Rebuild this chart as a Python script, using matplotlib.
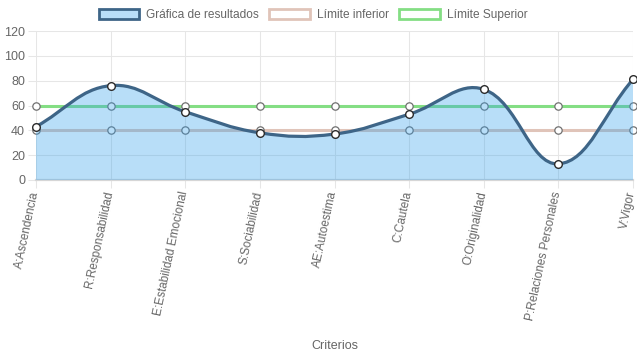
import matplotlib
matplotlib.use('Agg')
import matplotlib.pyplot as plt
from matplotlib.path import Path
from matplotlib.patches import PathPatch, Patch
from matplotlib.transforms import ScaledTranslation
import numpy as np

categories = ["A:Ascendencia", "R:Responsabilidad", "E:Estabilidad Emocional",
              "S:Sociabilidad", "AE:Autoestima", "C:Cautela", "O:Originalidad",
              "P:Relaciones Personales", "V:Vigor"]
resultados = [43, 76, 55, 38, 37, 53, 73, 13, 81]
limite_inferior = [40, 40, 40, 40, 40, 40, 40, 40, 40]
limite_superior = [60, 60, 60, 60, 60, 60, 60, 60, 60]
y_ticks = [0, 20, 40, 60, 80, 100, 120]
series_names = ["Gráfica de resultados", "Límite inferior", "Límite Superior"]

plt.rcParams['font.family'] = ['Liberation Sans', 'DejaVu Sans']
plt.rcParams['grid.alpha'] = 1.0
TXT = '#666666'
GRID = '#e6e6e6'
C_RES = '#3e6587'
C_FILL = (54/255, 162/255, 235/255, 0.35)
C_INF = '#e0c4b9'
C_SUP = '#84de84'

fig = plt.figure(figsize=(6.37, 3.59), dpi=100)
ax = fig.add_axes([36/637, 1-180/359, (633-36)/637, (180-31)/359])
n = len(categories)
xs = np.arange(n)
ax.set_xlim(0, n-1)
ax.set_ylim(0, 120)

for s in ax.spines.values():
    s.set_visible(False)
ax.set_yticks(y_ticks)
ax.set_xticks(xs)
ax.set_xticklabels(categories, rotation=78, ha='right', va='center',
                   rotation_mode='anchor', fontsize=8.5)
ax.tick_params(axis='both', length=5.8, width=0.75, color=GRID, labelcolor=TXT)
ax.tick_params(axis='y', pad=2, labelsize=9)
ax.tick_params(axis='x', pad=2.5)
off = ScaledTranslation(-1.0/100, 0, fig.dpi_scale_trans)
for lab in ax.get_xticklabels():
    lab.set_transform(lab.get_transform() + off)
ax.grid(True, color=GRID, lw=0.75, zorder=0)
ax.set_axisbelow(True)
ax.axhline(0, color='#d6d6d6', lw=1.6, zorder=1, clip_on=False)


def spline(xv, yv, t=0.4):
    pts = ax.transData.transform(np.column_stack([xv, yv]).astype(float))
    m = len(pts)
    cps = []
    for i in range(m):
        prev = pts[max(i-1, 0)]
        cur = pts[i]
        nxt = pts[min(i+1, m-1)]
        d01 = np.hypot(*(cur-prev))
        d12 = np.hypot(*(nxt-cur))
        tot = d01 + d12
        s01 = d01/tot if tot else 0
        s12 = d12/tot if tot else 0
        cps.append((cur - t*s01*(nxt-prev), cur + t*s12*(nxt-prev)))
    verts = [pts[0]]
    codes = [Path.MOVETO]
    for i in range(1, m):
        verts += [cps[i-1][1], cps[i][0], pts[i]]
        codes += [Path.CURVE4]*3
    v = ax.transData.inverted().transform(np.array(verts))
    v[:, 0] = np.clip(v[:, 0], 0, m-1)
    v[:, 1] = np.clip(v[:, 1], 0, 120)
    return v, codes


# limit lines (drawn beneath the results fill)
ax.plot(xs, limite_inferior, color=C_INF, lw=2.2, zorder=2, clip_on=False)
ax.plot(xs, limite_superior, color=C_SUP, lw=2.2, zorder=2, clip_on=False)
ax.plot(xs, limite_inferior, ls='none', marker='o', ms=5.3, mfc='white', mec='#707070',
        mew=0.9, zorder=2.5, clip_on=False)
ax.plot(xs, limite_superior, ls='none', marker='o', ms=5.3, mfc='white', mec='#707070',
        mew=0.9, zorder=2.5, clip_on=False)

v, codes = spline(xs, resultados)
fill_verts = np.vstack([[[0, 0]], v, [[n-1, 0]], [[0, 0]]])
fill_codes = [Path.MOVETO, Path.LINETO] + codes[1:] + [Path.LINETO, Path.CLOSEPOLY]
ax.add_patch(PathPatch(Path(fill_verts, fill_codes), facecolor=C_FILL, edgecolor='none',
                       zorder=3, clip_on=False))
ax.add_patch(PathPatch(Path(v, codes), facecolor='none', edgecolor=C_RES, lw=2.3,
                       zorder=4, clip_on=False, capstyle='round', joinstyle='round'))
ax.plot(xs, resultados, ls='none', marker='o', ms=5.5, mfc='white', mec='#2b2b2b',
        mew=1.0, zorder=5, clip_on=False)

fig.text((36+633)/2/637, 1-346/359, "Criterios", ha='center', va='center',
         color=TXT, fontsize=9)

handles = [Patch(facecolor='#b9def8', edgecolor=C_RES, lw=2),
           Patch(facecolor='white', edgecolor=C_INF, lw=2),
           Patch(facecolor='white', edgecolor=C_SUP, lw=2)]
leg = fig.legend(handles, series_names, loc='center',
                 bbox_to_anchor=(0.5 - 5.5/637, 1-15/359),
                 ncol=3, frameon=False, fontsize=8.6, handlelength=3.4, handleheight=1.0,
                 handletextpad=0.55, columnspacing=0.9)
for t in leg.get_texts():
    t.set_color(TXT)

fig.savefig('out.png', dpi=100)
